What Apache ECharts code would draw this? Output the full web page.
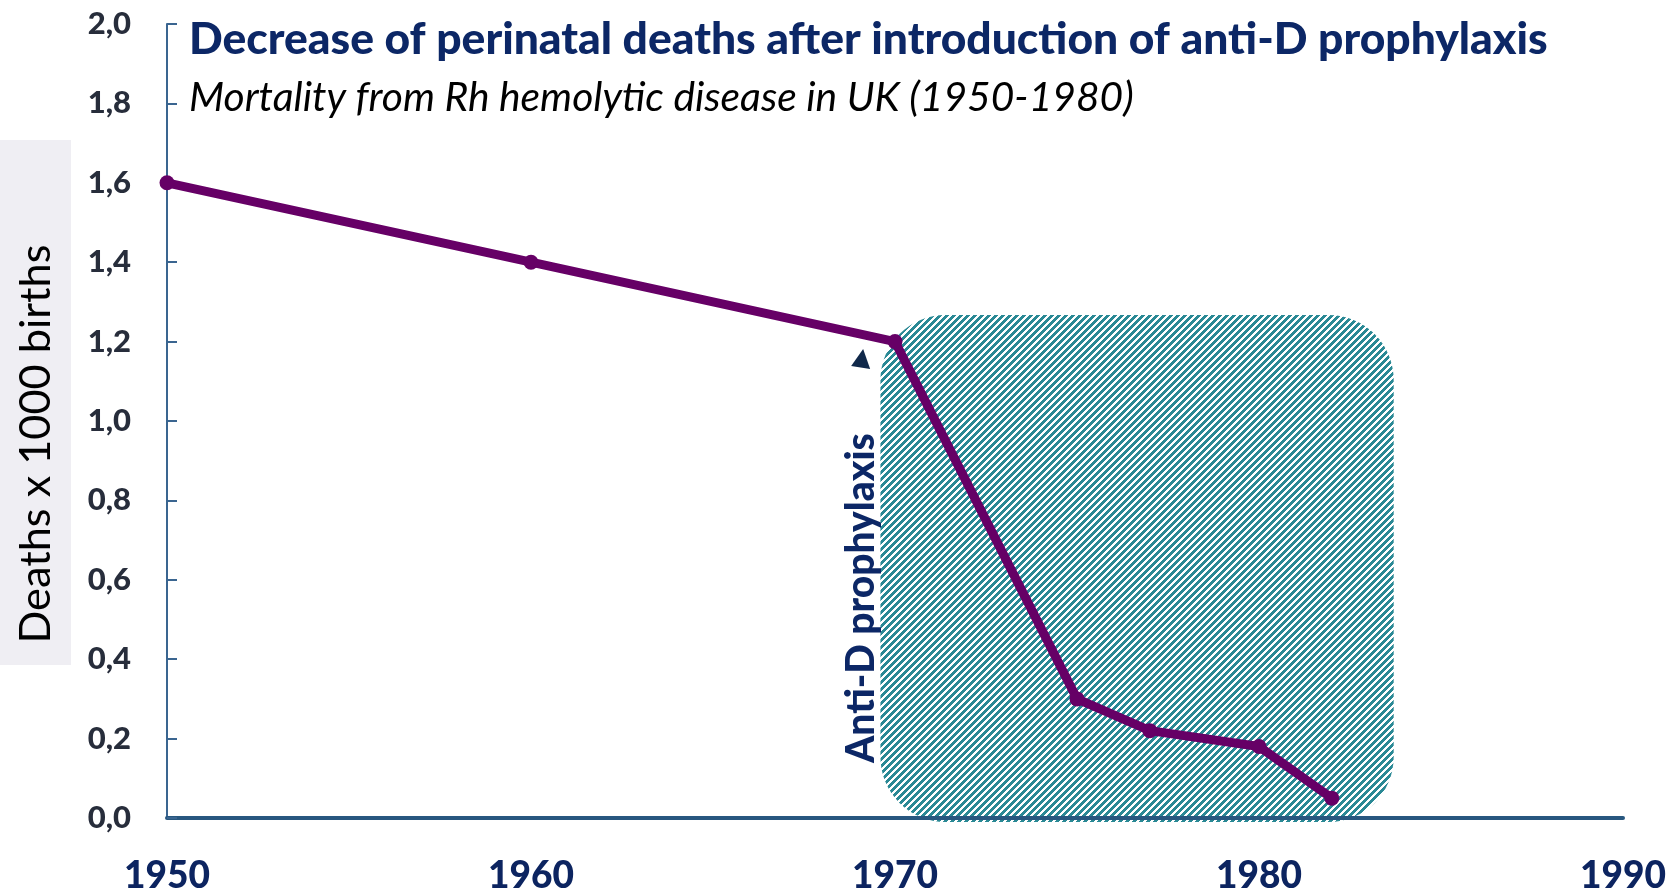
<!DOCTYPE html>
<html><head><meta charset="utf-8">
<script src="https://cdn.jsdelivr.net/npm/echarts@6/dist/echarts.min.js"></script>
<style>html,body{margin:0;padding:0;background:#fff}#c{width:1668px;height:891px}</style>
</head><body><div id="c"></div>
<script>
// ---- data ----
const years = [1950, 1960, 1970, 1975, 1977, 1980, 1982];
const deaths = [1.6, 1.4, 1.2, 0.3, 0.22, 0.18, 0.05];
const xTicks = [1950, 1960, 1970, 1980, 1990];
const yTicks = [0, 0.2, 0.4, 0.6, 0.8, 1.0, 1.2, 1.4, 1.6, 1.8, 2.0];
const titleText = 'Decrease of perinatal deaths after introduction of anti-D prophylaxis';
const subtitleText = 'Mortality from Rh hemolytic disease in UK (1950-1980)';
const yName = 'Deaths x 1000 births';
const bandLabel = 'Anti-D prophylaxis';
const bandYears = [1969.6, 1983.7];
const bandValues = [-0.01, 1.267];

const mctx = document.createElement('canvas').getContext('2d');
function fitSize(text, style, target) {
  mctx.font = style + ' 100px Lato';
  return 100 * target / mctx.measureText(text).width;
}

const chart = echarts.init(document.getElementById('c'), null, {renderer: 'canvas'});
const xLabelSize = fitSize('1950', '900', 86);
chart.setOption({
  animation: false,
  backgroundColor: '#ffffff',
  grid: {left: 167, right: 45, top: 24, bottom: 73, containLabel: false, outerBoundsMode: 'none'},
  xAxis: {
    type: 'value', min: xTicks[0], max: xTicks[xTicks.length - 1], interval: 10,
    axisLine: {show: true, onZero: false, lineStyle: {color: '#28577f', width: 4}},
    axisTick: {show: false},
    splitLine: {show: false},
    axisLabel: {margin: 40, color: '#0c2460', fontFamily: 'Lato', fontWeight: 900, fontSize: xLabelSize,
      hideOverlap: false, formatter: v => String(v)}
  },
  yAxis: {
    type: 'value', min: yTicks[0], max: yTicks[yTicks.length - 1], interval: 0.2,
    axisLine: {show: true, lineStyle: {color: '#3a6590', width: 2}},
    axisTick: {show: true, inside: true, length: 10, lineStyle: {color: '#3a6590', width: 2}},
    splitLine: {show: false},
    axisLabel: {margin: 36, color: '#272d3b', fontFamily: 'Lato', fontWeight: 900, fontSize: 31,
      formatter: v => v.toFixed(1).replace('.', ',')}
  },
  series: [{
    type: 'line',
    data: years.map((y, i) => [y, deaths[i]]),
    symbol: 'circle', symbolSize: 15,
    lineStyle: {color: '#660066', width: 9},
    itemStyle: {color: '#660066'},
    z: 5
  }]
});

// hatch pattern
const tile = document.createElement('canvas');
const N = 7; tile.width = N; tile.height = N;
const tctx = tile.getContext('2d');
tctx.fillStyle = '#ffffff'; tctx.fillRect(0, 0, N, N);
tctx.fillStyle = '#2a8995';
for (let x = 0; x < N; x++) for (let y = 0; y < N; y++) if ((x + y) % N < 4) tctx.fillRect(x, y, 1, 1);

const p = (x, y) => chart.convertToPixel({gridIndex: 0}, [x, y]);
const tl = p(bandYears[0], bandValues[1]);
const br = p(bandYears[1], bandValues[0]);
const triC = p(1969.07, 1.151);
const lblC = p(1969.07, 0.554);

const subSize = fitSize(subtitleText, 'italic', 945);
const yNameSize = fitSize(yName, 'normal', 399);
const bandSize = fitSize(bandLabel, '900', 330);

chart.setOption({
  graphic: [
    {type: 'rect', z: -10, shape: {x: tl[0], y: tl[1], width: br[0] - tl[0], height: br[1] - tl[1], r: 65},
      style: {fill: {image: tile, repeat: 'repeat'}}},
    {type: 'polygon', z: 10, shape: {points: [[triC[0] + 2, triC[1] - 12], [triC[0] - 10, triC[1] + 5], [triC[0] + 9, triC[1] + 8]]},
      style: {fill: '#10284a'}},
    {type: 'text', z: 10, x: lblC[0], y: lblC[1], rotation: Math.PI / 2,
      style: {text: bandLabel, fontFamily: 'Lato', fontWeight: 900, fontSize: bandSize, fill: '#0c2766',
        align: 'center', verticalAlign: 'middle', textAlign: 'center', textVerticalAlign: 'middle'}},
    {type: 'rect', z: -5, shape: {x: 0, y: 140, width: 71, height: 525}, style: {fill: '#efeef3'}},
    {type: 'text', z: 10, x: 36, y: 444, rotation: Math.PI / 2,
      style: {text: yName, fontFamily: 'Lato', fontWeight: 'normal', fontSize: yNameSize, fill: '#000000',
        align: 'center', verticalAlign: 'middle', textAlign: 'center', textVerticalAlign: 'middle'}},
    {type: 'text', z: 10, x: 189, y: 40,
      style: {text: titleText, fontFamily: 'Lato', fontWeight: 900, fontSize: fitSize(titleText, '900', 1359), fill: '#0c2766',
        align: 'left', verticalAlign: 'middle', textAlign: 'left', textVerticalAlign: 'middle'}},
    {type: 'text', z: 10, x: 189, y: 98,
      style: {text: subtitleText, fontFamily: 'Lato', fontStyle: 'italic', fontSize: subSize, fill: '#000000',
        align: 'left', verticalAlign: 'middle', textAlign: 'left', textVerticalAlign: 'middle'}}
  ]
});
</script>
</body></html>
